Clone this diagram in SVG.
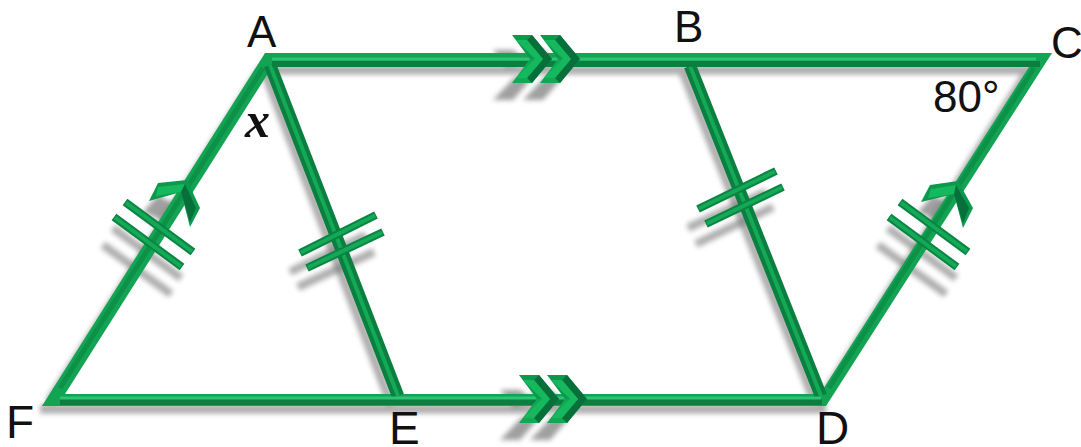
<svg xmlns="http://www.w3.org/2000/svg" width="1081" height="447" viewBox="0 0 1081 447">
<defs>
<style>
.lbl{font-family:"Liberation Sans",Arial,sans-serif;font-size:44px;fill:#111}
.big{font-size:46px}
.x{font-family:"Liberation Serif","Times New Roman",serif;font-size:50px;font-weight:bold;font-style:italic;fill:#111}
.base{fill:#12a353;fill-rule:evenodd}
.edge{stroke:#0b7f3f;fill:none}
.tick{stroke:#0a8443;stroke-width:8;fill:none}
.hi{stroke:#2cc474;stroke-width:3;fill:none}
.mid{stroke:#0d9149;stroke-width:5;fill:none}
.hit{stroke:#13a957;stroke-width:4;fill:none}
.shade{stroke:#777;fill:none;filter:url(#blur);opacity:.6}
.shfill{fill:#777;filter:url(#blur);opacity:.7}
.ca{fill:#0b9a4d}.cb{fill:#16b85e}.cc{fill:#07703a}.cd{fill:#0fa855}
</style>
<filter id="blur" x="-30%" y="-30%" width="160%" height="160%"><feGaussianBlur stdDeviation="2.5"/></filter>
<g id="chev">
<polygon class="ca" points="0,0 20,0 40,24 18,24"/>
<polygon class="cd" points="0,48 20,48 40,24 18,24"/>
<polygon class="cc" points="20,0 40,24 31,24 15,5"/>
<polygon class="cb" points="4,5 15,5 31,24 23,24"/>
<polygon class="cc" points="20,48 40,24 31,24 15,43"/>
<polygon class="cb" points="4,43 15,43 31,24 23,24"/>
</g>
<g id="shadowchev"><polygon class="shfill" points="0,100 20,100 40,77 22,77"/><polygon class="shfill" points="0,50 20,50 36,62 14,68"/></g>
</defs>
<rect width="1081" height="447" fill="#fff"/>

<g id="connectors">
<g class="shadows">
<path class="shade" stroke-width="9" d="M40,409H826M262,70H1035M49,402L262,68M264,70L391,404M683,72L815,402M819,404L1029,70"/>
<use href="#shadowchev" x="493"/>
<use href="#shadowchev" x="523"/>
<use href="#shadowchev" x="500" y="340"/>
<use href="#shadowchev" x="530" y="340"/>
<polygon class="shfill" points="143,212 158,195 176,205 165,222"/>
<polygon class="shfill" points="918,212 933,195 951,205 940,222"/>
<path class="shade" stroke-width="8" d="M113,228L181,278M103,245L171,294M888,228L956,278M878,245L946,294M290,272L366,235M298,287L374,252M688,228L766,192M696,244L773,207"/>
</g>
<path class="base" d="M42,406H826L1052,53H265ZM65,394H820L1029,67H272Z"/>
<g id="lines-inner">
<path class="edge" stroke-width="12.5" d="M270,65L398,396M690,66L821,396"/>
<path class="hit" d="M270,65L398,396M690,66L821,396"/>
</g>
<path class="edge" stroke-width="6" d="M60,402H822M272,64H1040"/>
<path class="hi" d="M60,398H821M272,59H1036"/>
<path class="mid" d="M60,388L263,68M829,388L1034,68"/>

<use href="#chev" x="512" y="35"/>
<use href="#chev" x="540" y="35"/>
<use href="#chev" x="519" y="375"/>
<use href="#chev" x="547" y="375"/>

<g id="arrow-left">
<polygon class="ca" points="149,201 158,183 187,180 200,208 190,227 181,192"/>
<polygon class="cb" points="158,187 185,184 181,192 156,196"/>
<polygon class="cc" points="185,184 196,208 190,222 181,192"/>
</g>
<g id="arrow-right">
<polygon class="ca" points="921,202 930,185 958,181 973,208 963,228 954,194"/>
<polygon class="cb" points="931,189 956,185 954,194 928,198"/>
<polygon class="cc" points="956,185 969,208 963,223 954,194"/>
</g>

<path class="tick" d="M125,202L193,252M114,217L182,267M900,202L968,252M889,217L957,267M300,253L376,215M307,268L383,232M698,209L776,171M706,224L783,187"/>
<path class="hit" d="M126,202.700L192,251.300M115,217.700L181,266.300M901,202.700L967,251.300M890,217.700L956,266.300M301,252.500L375,215.500M308,267.500L382,232.500M699,208.500L775,171.500M707,223.500L782,187.500"/>
</g>

<g id="node-A"><text class="lbl" x="247" y="47">A</text></g>
<g id="node-B"><text class="lbl" x="674" y="42">B</text></g>
<g id="node-C"><text class="lbl" x="1051" y="58">C</text></g>
<g id="node-D"><text class="lbl big" x="816" y="444">D</text></g>
<g id="node-E"><text class="lbl big" x="389" y="444">E</text></g>
<g id="node-F"><text class="lbl big" x="6" y="438">F</text></g>
<g id="angle-80"><text class="lbl" x="933" y="112">80°</text></g>
<g id="angle-x"><text class="x" x="245" y="137">x</text></g>
</svg>
